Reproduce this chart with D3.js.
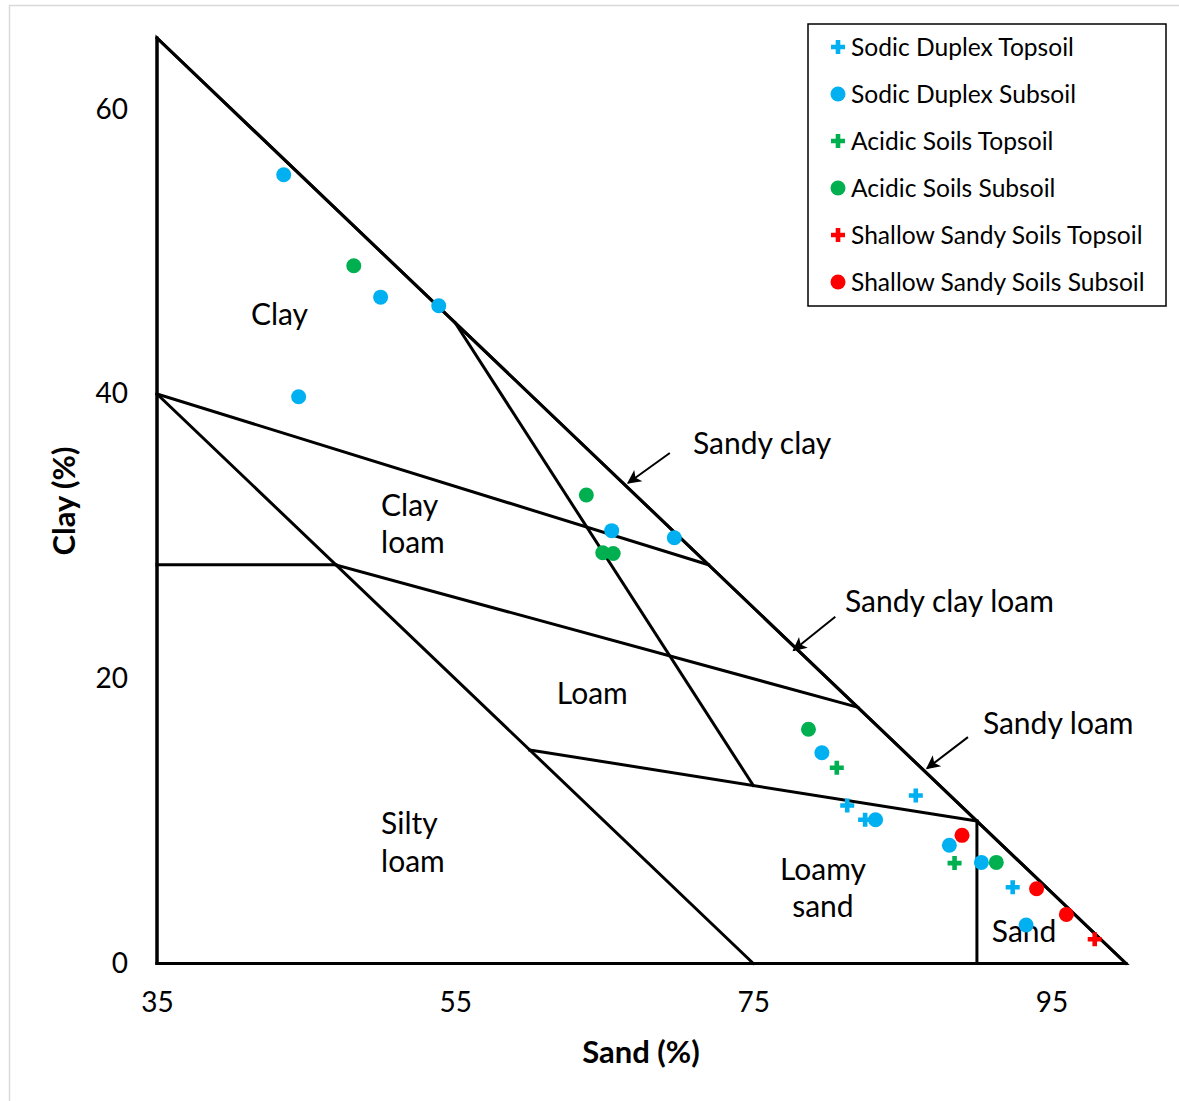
<!DOCTYPE html>
<html>
<head>
<meta charset="utf-8">
<script src="https://cdn.jsdelivr.net/npm/d3@7"></script>
<style>
  html, body { margin: 0; padding: 0; background: #fff; }
  svg { display: block; font-family: "Lato", "Open Sans", sans-serif; }
</style>
</head>
<body>
<svg id="chart" width="1179" height="1101"></svg>
<script>
// ---------- DATA (sand %, clay %) ----------
const seriesNames = [
  "Sodic Duplex Topsoil", "Sodic Duplex Subsoil",
  "Acidic Soils Topsoil", "Acidic Soils Subsoil",
  "Shallow Sandy Soils Topsoil", "Shallow Sandy Soils Subsoil"
];
const sodicTopSand = [81.3, 82.5, 85.9, 92.4];
const sodicTopClay = [11.1, 10.1, 11.8, 5.35];
const sodicSubSand = [43.5, 50.0, 53.9, 44.5, 65.5, 69.7, 79.6, 83.2, 88.15, 90.3, 93.3];
const sodicSubClay = [55.4, 46.8, 46.2, 39.8, 30.4, 29.9, 14.8, 10.1, 8.3, 7.1, 2.7];
const acidTopSand = [80.6, 88.5];
const acidTopClay = [13.75, 7.05];
const acidSubSand = [48.2, 63.8, 64.9, 65.6, 78.7, 91.3];
const acidSubClay = [49.0, 32.9, 28.85, 28.8, 16.45, 7.1];
const shallowTopSand = [97.9];
const shallowTopClay = [1.7];
const shallowSubSand = [89.0, 94.0, 96.0];
const shallowSubClay = [9.0, 5.25, 3.45];

// texture class boundary segments [sand1, clay1, sand2, clay2]
const boundaries = [
  [35, 0, 35, 65], [35, 65, 100, 0], [35, 0, 100, 0],
  [35, 40, 75, 0], [35, 40, 72, 28], [35, 28, 47, 28], [47, 28, 82, 18],
  [55, 45, 75, 12.5], [60, 15, 90, 10], [90, 10, 90, 0]
];
const xTicks = [35, 55, 75, 95];
const yTicks = [0, 20, 40, 60];

// region labels: text lines, sand, clay (first line centre), anchor
const regionLabels = [
  { lines: ["Clay"], sand: 41.3, clay: 45.55, anchor: "start" },
  { lines: ["Clay", "loam"], sand: 50.03, clay: 32.2, anchor: "start" },
  { lines: ["Loam"], sand: 64.2, clay: 18.93, anchor: "middle" },
  { lines: ["Silty", "loam"], sand: 50.03, clay: 9.83, anchor: "start" },
  { lines: ["Loamy", "sand"], sand: 79.67, clay: 6.63, anchor: "middle" },
  { lines: ["Sand"], sand: 91.0, clay: 2.28, anchor: "start" }
];
// arrow annotations: text, text sand/clay, arrow from (sand,clay) to tip (sand,clay)
const arrowLabels = [
  { text: "Sandy clay", tSand: 70.95, tClay: 36.55, x1: 69.4, y1: 35.85, x2: 66.6, y2: 33.75 },
  { text: "Sandy clay loam", tSand: 81.15, tClay: 25.39, x1: 80.5, y1: 24.35, x2: 77.7, y2: 22.0 },
  { text: "Sandy loam", tSand: 90.4, tClay: 16.89, x1: 89.4, y1: 15.9, x2: 86.65, y2: 13.7 }
];

// ---------- BUILD ----------
const colors = ["#00B0F0", "#00B0F0", "#00B050", "#00B050", "#FF0000", "#FF0000"];
const shapes = ["cross", "circle", "cross", "circle", "cross", "circle"];
const sandArrays = [sodicTopSand, sodicSubSand, acidTopSand, acidSubSand, shallowTopSand, shallowSubSand];
const clayArrays = [sodicTopClay, sodicSubClay, acidTopClay, acidSubClay, shallowTopClay, shallowSubClay];
const series = seriesNames.map((name, i) => ({
  name, color: colors[i], shape: shapes[i],
  points: sandArrays[i].map((s, j) => ({ sand: s, clay: clayArrays[i][j] }))
}));

const svg = d3.select("#chart");
const W = 1179, H = 1101;

svg.append("rect").attr("x", 9.5).attr("y", 5.5).attr("width", W).attr("height", H)
  .attr("fill", "#fff").attr("stroke", "#d9d9d9").attr("stroke-width", 1.5);

const x = d3.scaleLinear().domain([35, 100]).range([157, 1126]);
const y = d3.scaleLinear().domain([0, 65]).range([963.5, 38]);

svg.append("defs").append("marker")
  .attr("id", "arrow").attr("viewBox", "0 0 10 10").attr("refX", 9).attr("refY", 5)
  .attr("markerWidth", 17).attr("markerHeight", 14).attr("markerUnits", "userSpaceOnUse")
  .attr("orient", "auto")
  .append("path").attr("d", "M0,0 L10,5 L0,10 L2.5,5 Z").attr("fill", "#000");

// boundaries
svg.append("g").selectAll("line").data(boundaries).join("line")
  .attr("x1", d => x(d[0])).attr("y1", d => y(d[1]))
  .attr("x2", d => x(d[2])).attr("y2", d => y(d[3]))
  .attr("stroke", "#000").attr("stroke-width", 3).attr("stroke-linecap", "square");
svg.append("path")
  .attr("d", `M${x(35)},${y(0)}L${x(35)},${y(65)}L${x(100)},${y(0)}Z`)
  .attr("fill", "none").attr("stroke", "#000").attr("stroke-width", 3).attr("stroke-linejoin", "miter");

// axes (labels only)
const xAxis = svg.append("g").attr("transform", `translate(0,${y(0)})`)
  .call(d3.axisBottom(x).tickValues(xTicks).tickSize(0).tickPadding(29));
const yAxis = svg.append("g").attr("transform", `translate(${x(35)},0)`)
  .call(d3.axisLeft(y).tickValues(yTicks).tickSize(0).tickPadding(29));
[xAxis, yAxis].forEach(a => {
  a.select(".domain").remove();
  a.selectAll("text").attr("font-size", 28).attr("fill", "#000")
    .attr("font-family", "Lato, sans-serif");
});

// axis titles
svg.append("text").attr("x", 641).attr("y", 1063).attr("text-anchor", "middle")
  .attr("font-size", 31).attr("font-weight", "bold").text("Sand (%)");
svg.append("text").attr("transform", "translate(75,501) rotate(-90)").attr("text-anchor", "middle")
  .attr("font-size", 31).attr("font-weight", "bold").text("Clay (%)");

// region labels
const rl = svg.append("g");
regionLabels.forEach(l => {
  const t = rl.append("text").attr("x", x(l.sand)).attr("y", y(l.clay))
    .attr("text-anchor", l.anchor).attr("font-size", 30);
  l.lines.forEach((ln, i) => t.append("tspan").attr("x", x(l.sand)).attr("dy", i ? 37.5 : "0.35em").text(ln));
});

// arrow labels
arrowLabels.forEach(a => {
  svg.append("text").attr("x", x(a.tSand)).attr("y", y(a.tClay)).attr("dy", "0.35em")
    .attr("font-size", 30).text(a.text);
  svg.append("line").attr("x1", x(a.x1)).attr("y1", y(a.y1)).attr("x2", x(a.x2)).attr("y2", y(a.y2))
    .attr("stroke", "#000").attr("stroke-width", 2).attr("marker-end", "url(#arrow)");
});

// points
const crossPath = "M-2.3,-7H2.3V-2.3H7V2.3H2.3V7H-2.3V2.3H-7V-2.3H-2.3Z";
function drawMarker(g, shape, color) {
  if (shape === "circle") g.append("circle").attr("r", 7.5).attr("fill", color);
  else g.append("path").attr("d", crossPath).attr("fill", color);
}
const pts = svg.append("g");
series.forEach(s => {
  s.points.forEach(p => {
    const g = pts.append("g").attr("transform", `translate(${x(p.sand)},${y(p.clay)})`);
    drawMarker(g, s.shape, s.color);
  });
});

// legend
const lg = svg.append("g");
lg.append("rect").attr("x", 808).attr("y", 24).attr("width", 358).attr("height", 282)
  .attr("fill", "#fff").attr("stroke", "#000").attr("stroke-width", 1.5);
series.forEach((s, i) => {
  const cy = 47 + i * 47;
  const g = lg.append("g").attr("transform", `translate(838,${cy})`);
  drawMarker(g, s.shape, s.color);
  lg.append("text").attr("x", 851).attr("y", cy).attr("dy", "0.35em")
    .attr("font-size", 24.6).text(s.name);
});
</script>
</body>
</html>
